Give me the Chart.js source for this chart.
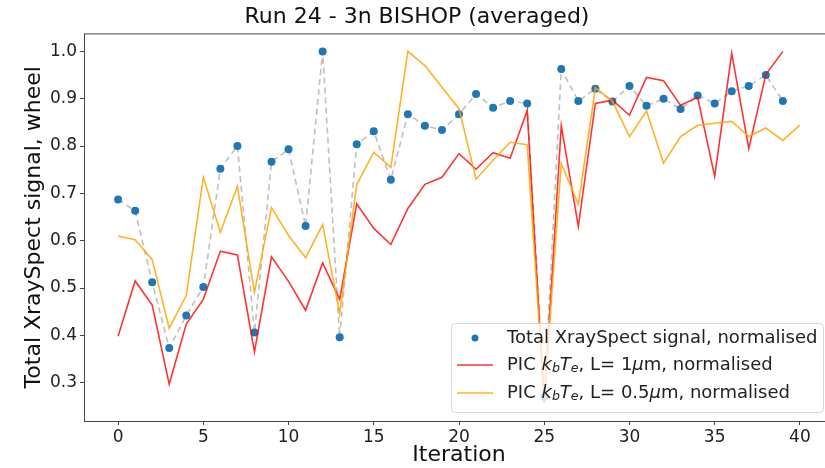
<!DOCTYPE html>
<html>
<head>
<meta charset="utf-8">
<script src="https://cdn.jsdelivr.net/npm/chart.js@4"></script>
<style>
  html, body { margin: 0; padding: 0; background: #fff; overflow: hidden; }
  #wrap { width: 845px; height: 468px; }
</style>
</head>
<body>
<div id="wrap"><canvas id="chart"></canvas></div>
<script>
// iterations and values
const iterations = [0,1,2,3,4,5,6,7,8,9,10,11,12,13,14,15,16,17,18,19,20,21,22,23,24,25,26,27,28,29,30,31,32,33,34,35,36,37,38,39,40];
const xraySignal = [0.687,0.663,0.512,0.373,0.442,0.502,0.752,0.800,0.406,0.767,0.793,0.631,1.000,0.396,0.804,0.831,0.729,0.867,0.843,0.834,0.867,0.910,0.881,0.895,0.890,0.270,0.963,0.895,0.921,0.894,0.927,0.885,0.900,0.878,0.907,0.890,0.916,0.927,0.950,0.895];
const picL1 = [0.398,0.515,0.464,0.297,0.424,0.476,0.578,0.570,0.365,0.566,0.514,0.453,0.553,0.476,0.678,0.626,0.592,0.668,0.719,0.734,0.784,0.751,0.786,0.774,0.875,0.256,0.843,0.630,0.890,0.897,0.865,0.945,0.938,0.886,0.903,0.736,0.996,0.795,0.951,1.000];
const picL05 = [0.610,0.602,0.560,0.415,0.484,0.734,0.618,0.715,0.491,0.670,0.611,0.564,0.634,0.446,0.718,0.787,0.755,1.000,0.970,0.924,0.879,0.730,0.770,0.808,0.803,0.265,0.763,0.677,0.923,0.895,0.820,0.874,0.764,0.820,0.844,0.848,0.852,0.820,0.838,0.812,0.844];
const xTicks = [0,5,10,15,20,25,30,35,40];
const yTicks = [0.3,0.4,0.5,0.6,0.7,0.8,0.9,1.0];

const FONT = "'DejaVu Sans', sans-serif";
const pts = (arr) => arr.map((v, i) => ({ x: iterations[i], y: v }));

// frame on all four sides, like matplotlib spines
const framePlugin = {
  id: 'frame',
  afterDraw(chart) {
    const { ctx, chartArea: a } = chart;
    ctx.save();
    ctx.strokeStyle = '#444';
    ctx.lineWidth = 1;
    ctx.strokeRect(a.left + 0.5, a.top + 0.5, a.right - a.left, a.bottom - a.top);
    ctx.restore();
  }
};

// legend with the mathtext labels drawn by hand
function drawRich(ctx, x, y, parts, size) {
  for (const p of parts) {
    const s = p.sub ? size * 0.7 : size;
    ctx.font = (p.it ? 'italic ' : '') + s + 'px ' + FONT;
    ctx.fillText(p.t, x, p.sub ? y + size * 0.22 : y);
    x += ctx.measureText(p.t).width;
  }
}

const legendPlugin = {
  id: 'mplLegend',
  afterDatasetsDraw(chart) {
    const ctx = chart.ctx;
    const bx = 451, by = 323, bw = 372, bh = 89, r = 4;
    ctx.save();
    ctx.beginPath();
    ctx.roundRect(bx + 0.5, by + 0.5, bw, bh, r);
    ctx.fillStyle = 'rgba(255,255,255,0.8)';
    ctx.fill();
    ctx.strokeStyle = '#d5d5d5';
    ctx.lineWidth = 1;
    ctx.stroke();

    const ds = chart.data.datasets;
    const rows = [338, 365, 393];
    // row 1: scatter marker
    ctx.fillStyle = ds[1].pointBackgroundColor;
    ctx.beginPath();
    ctx.arc(475, rows[0], 3.5, 0, Math.PI * 2);
    ctx.fill();
    // rows 2,3: lines
    [ds[2], ds[3]].forEach((d, k) => {
      ctx.strokeStyle = d.borderColor;
      ctx.lineWidth = 1.6;
      ctx.beginPath();
      ctx.moveTo(457, rows[k + 1]);
      ctx.lineTo(493, rows[k + 1]);
      ctx.stroke();
    });

    ctx.fillStyle = '#222';
    ctx.textBaseline = 'middle';
    const fs = 18;
    drawRich(ctx, 507, rows[0], [{ t: 'Total XraySpect signal, normalised' }], fs);
    const kT = [{ t: 'PIC ' }, { t: 'k', it: 1 }, { t: 'b', it: 1, sub: 1 }, { t: 'T', it: 1 }, { t: 'e', it: 1, sub: 1 }];
    drawRich(ctx, 507, rows[1], kT.concat([{ t: ', L= 1' }, { t: 'μ', it: 1 }, { t: 'm, normalised' }]), fs);
    drawRich(ctx, 507, rows[2], kT.concat([{ t: ', L= 0.5' }, { t: 'μ', it: 1 }, { t: 'm, normalised' }]), fs);
    ctx.restore();
  }
};

new Chart(document.getElementById('chart'), {
  type: 'line',
  data: {
    datasets: [
      {
        label: 'dashed',
        data: pts(xraySignal),
        borderColor: 'rgba(170,170,170,0.75)',
        borderDash: [6, 4],
        borderWidth: 1.6,
        pointRadius: 0,
        tension: 0,
        order: 4
      },
      {
        label: 'Total XraySpect signal, normalised',
        data: pts(xraySignal),
        showLine: false,
        pointRadius: 4,
        pointBorderWidth: 0,
        pointBackgroundColor: '#1f77b4',
        pointBorderColor: '#1f77b4',
        order: 3
      },
      {
        label: 'PIC kbTe, L= 1μm, normalised',
        data: pts(picL1),
        borderColor: 'rgba(255,0,0,0.8)',
        borderWidth: 1.6,
        pointRadius: 0,
        tension: 0,
        order: 2
      },
      {
        label: 'PIC kbTe, L= 0.5μm, normalised',
        data: pts(picL05),
        borderColor: 'rgba(255,165,0,0.85)',
        borderWidth: 1.6,
        pointRadius: 0,
        tension: 0,
        order: 1
      }
    ]
  },
  options: {
    responsive: true,
    maintainAspectRatio: false,
    animation: false,
    layout: { padding: { left: 0, right: 11, top: 0, bottom: 0 } },
    plugins: {
      legend: { display: false },
      tooltip: { enabled: false },
      title: {
        display: true,
        text: 'Run 24 - 3n BISHOP (averaged)',
        color: '#111',
        font: { family: FONT, size: 22, weight: 'normal' },
        padding: { top: 4, bottom: 3 }
      }
    },
    scales: {
      x: {
        type: 'linear',
        min: -2,
        max: 42,
        afterBuildTicks: (s) => { s.ticks = xTicks.map(v => ({ value: v })); },
        afterFit: (s) => { s.height = 47; },
        grid: { drawOnChartArea: false, drawTicks: true, tickLength: 4, color: '#444' },
        border: { display: false },
        ticks: { color: '#222', font: { family: FONT, size: 17 }, padding: 2, maxRotation: 0 },
        title: {
          display: true,
          text: 'Iteration',
          color: '#111',
          font: { family: FONT, size: 22 },
          padding: { top: 0, bottom: 0 }
        }
      },
      y: {
        min: 0.219,
        max: 1.038,
        afterBuildTicks: (s) => { s.ticks = yTicks.map(v => ({ value: v })); },
        afterFit: (s) => { s.width = 84; },
        grid: { drawOnChartArea: false, drawTicks: true, tickLength: 4, color: '#444' },
        border: { display: false },
        ticks: {
          color: '#222',
          font: { family: FONT, size: 17 },
          padding: 3,
          callback: (v) => v.toFixed(1)
        },
        title: {
          display: true,
          text: 'Total XraySpect signal, wheel',
          color: '#111',
          font: { family: FONT, size: 22 },
          padding: { top: 21, bottom: 0 }
        }
      }
    }
  },
  plugins: [framePlugin, legendPlugin]
});
</script>
</body>
</html>
